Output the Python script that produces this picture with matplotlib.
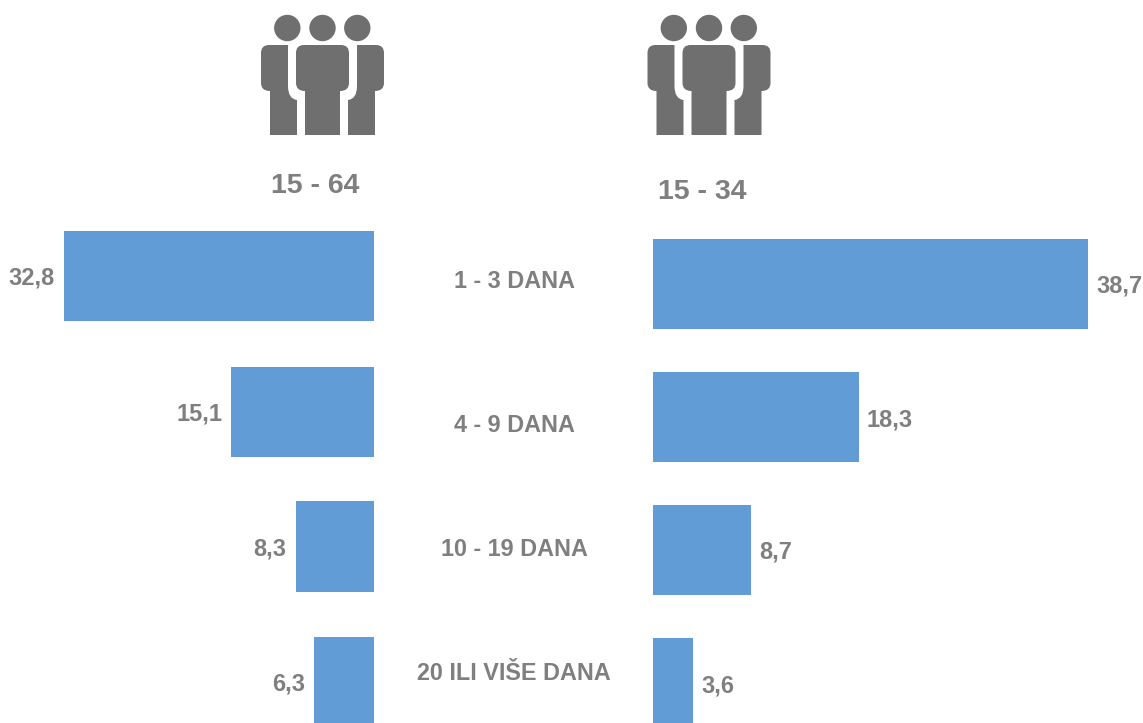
import matplotlib
matplotlib.use("Agg")
import matplotlib.pyplot as plt
from matplotlib.patches import Circle, PathPatch
from matplotlib.path import Path

W, H = 1143, 723
categories = ["1 - 3 DANA", "4 - 9 DANA", "10 - 19 DANA", "20 ILI VIŠE DANA"]
group_labels = ["15 - 64", "15 - 34"]
values_15_64 = [32.8, 15.1, 8.3, 6.3]
values_15_34 = [38.7, 18.3, 8.7, 3.6]

BAR = "#619CD6"
TXT = "#7F7F7F"
ICON = "#6F6F6F"
plt.rcParams["font.family"] = ["Liberation Sans", "DejaVu Sans"]
plt.rcParams["font.weight"] = "bold"

fig = plt.figure(figsize=(W / 100, H / 100), dpi=100, facecolor="white")


def px_axes(x0, x1):
    return fig.add_axes([x0 / W, 0, (x1 - x0) / W, 1])


# left panel: zero at x = 374 px, 9.45 px per unit; right: zero at 653 px, 11.24 px per unit
axL = px_axes(0, 374)
axL.set_xlim(374 / 9.45, 0)
axR = px_axes(653, W)
axR.set_xlim(0, (W - 653) / 11.24)
centers_L = [276, 412, 546.5, 682]
centers_R = [284, 417, 550, 683]
for ax, vals, ys, ha, dx in ((axL, values_15_64, centers_L, "right", -9),
                             (axR, values_15_34, centers_R, "left", 8)):
    ax.set_ylim(H, 0)
    ax.axis("off")
    ax.barh(ys, vals, height=90.5, color=BAR, linewidth=0)
    for v, y in zip(vals, ys):
        ax.annotate(f"{v:.1f}".replace(".", ","), (v, y), xytext=(dx * 0.72, 0),
                    textcoords="offset points", ha=ha, va="center_baseline",
                    fontsize=17, color=TXT, annotation_clip=False)

ov = fig.add_axes([0, 0, 1, 1])
ov.set_xlim(0, W)
ov.set_ylim(H, 0)
ov.axis("off")
ov.patch.set_alpha(0)

for cat, y in zip(categories, [279.5, 422.5, 547.5, 670.5]):
    ov.text(514, y, cat, ha="center", va="center_baseline", fontsize=16.8, color=TXT)
for lab, x, y in zip(group_labels, [315, 702], [183, 189]):
    ov.text(x, y, lab, ha="center", va="center_baseline", fontsize=20.5, color=TXT)


def people(ax, ox):
    M, L, C = Path.MOVETO, Path.LINETO, Path.CURVE3
    for hx in (287.3, 322.5, 357.3):
        ax.add_patch(Circle((hx + ox, 28), 13.2, fc=ICON, ec="none"))
    centre = [(304, 45), (341, 45), (349, 45), (349, 53), (349, 83), (349, 91), (340, 91),
              (340, 135), (305, 135), (305, 91), (296, 91), (296, 83), (296, 53), (296, 45), (304, 45)]
    ccodes = [M, L, C, C, L, C, C, L, L, L, C, C, L, C, C]
    ax.add_patch(PathPatch(Path([(x + ox, y) for x, y in centre], ccodes), fc=ICON, ec="none"))
    side = [(269, 45), (288, 45), (288, 86), (288, 99), (297, 100), (297, 135), (270, 135),
            (270, 91), (261, 91), (261, 83), (261, 53), (261, 45), (269, 45)]
    scodes = [M, L, L, C, C, L, L, L, C, C, L, C, C]
    for mirror in (False, True):
        pts = [((645 - x if mirror else x) + ox, y) for x, y in side]
        ax.add_patch(PathPatch(Path(pts, scodes), fc=ICON, ec="none"))


people(ov, 0)
people(ov, 386.5)

fig.savefig("out.png", dpi=100, facecolor="white")
